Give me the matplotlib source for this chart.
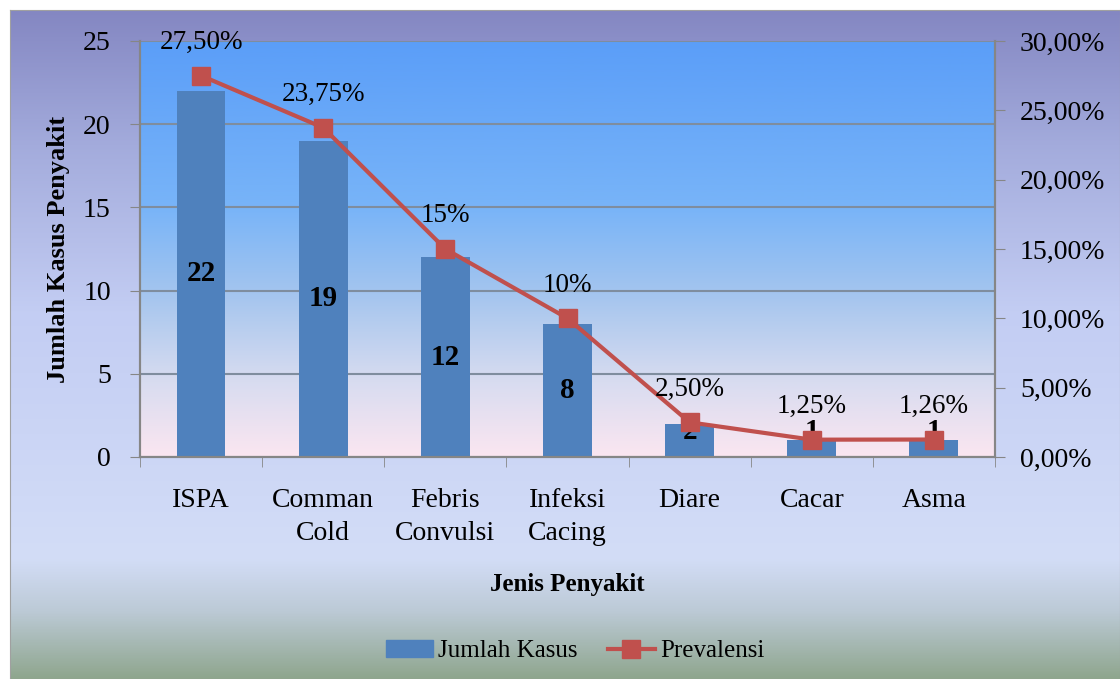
import numpy as np
import matplotlib.pyplot as plt
from matplotlib.colors import LinearSegmentedColormap
from matplotlib.lines import Line2D
from matplotlib.patches import Patch

# data
categories = ['ISPA', 'Comman\nCold', 'Febris\nConvulsi', 'Infeksi\nCacing', 'Diare', 'Cacar', 'Asma']
jumlah_kasus = [22, 19, 12, 8, 2, 1, 1]
prevalensi = [27.5, 23.75, 15.0, 10.0, 2.5, 1.25, 1.26]
prevalensi_labels = ['27,50%', '23,75%', '15%', '10%', '2,50%', '1,25%', '1,26%']

plt.rcParams['font.family'] = ['Liberation Serif', 'DejaVu Serif']

W, H = 1120, 679
fig = plt.figure(figsize=(W / 100, H / 100), dpi=100)
fig.patch.set_facecolor('white')

# outer chart area gradient (purple -> light blue -> greenish)
grad = np.linspace(0, 1, 256).reshape(-1, 1)
bg_cmap = LinearSegmentedColormap.from_list('bg', [
    (0.0, '#8487c2'), (0.2, '#a3abdc'), (0.45, '#c3cdf3'),
    (0.82, '#d3ddf7'), (0.9, '#bccad6'), (1.0, '#8fa68e')])
bg = fig.add_axes([10 / W, 0, 1 - 10 / W, (H - 10) / H])
bg.imshow(grad, aspect='auto', cmap=bg_cmap)
bg.set_xticks([])
bg.set_yticks([])
for s in bg.spines.values():
    s.set_color('#a0a0a0')

# plot area
ax = fig.add_axes([140 / W, 1 - 457 / H, 855 / W, 416 / H])
plot_cmap = LinearSegmentedColormap.from_list('plot', [
    (0.0, '#5b9ef8'), (0.4, '#78b4f8'), (0.62, '#a7c6ee'),
    (0.82, '#d8dcf0'), (1.0, '#fbe6f0')])
x = np.arange(len(categories))
ax.imshow(grad, aspect='auto', cmap=plot_cmap, extent=[-0.5, 6.5, 0, 25], zorder=0)

ax.bar(x, jumlah_kasus, width=0.4, color='#4f81bd', zorder=2)
for xi, v in zip(x, jumlah_kasus):
    ax.text(xi, max(v / 2, 1.55), str(v), ha='center', va='center',
            fontsize=21, fontweight='bold', color='black', zorder=5)

ax.set_xlim(-0.5, 6.5)
ax.set_ylim(0, 25)
ax.set_yticks(range(0, 26, 5))
ax.set_axisbelow(True)
ax.yaxis.grid(True, color='#7f8d9e', lw=1.5)
ax.set_xticks(x)
ax.set_xticklabels(categories, fontsize=20, linespacing=1.45)
ax.set_xticks(np.arange(-0.5, 7, 1), minor=True)
ax.tick_params(axis='x', which='major', length=0, pad=22)
ax.tick_params(axis='x', which='minor', length=7, color='#868686', direction='out')
ax.tick_params(axis='y', labelsize=20, length=7, color='#868686', pad=14)
ax.spines['top'].set_visible(False)
for s in ['left', 'bottom', 'right']:
    ax.spines[s].set_color('#868686')
    ax.spines[s].set_linewidth(1.5)
ax.patch.set_visible(False)

# prevalence line on the secondary axis
ax2 = ax.twinx()
ax2.plot(x, prevalensi, color='#c0504d', lw=3, marker='s', ms=13.5, zorder=3)
for xi, v, lab in zip(x, prevalensi, prevalensi_labels):
    ax2.annotate(lab, (xi, v), xytext=(0, 24), textcoords='offset points',
                 ha='center', va='center', fontsize=19.5)
ax2.set_ylim(0, 30)
ax2.set_yticks(range(0, 31, 5))
ax2.set_yticklabels([f'{v:.2f}'.replace('.', ',') + '%' for v in range(0, 31, 5)])
ax2.tick_params(axis='y', labelsize=20, length=7, color='#868686', pad=11)
ax2.spines['top'].set_visible(False)
for s in ['left', 'bottom', 'right']:
    ax2.spines[s].set_color('#868686')
    ax2.spines[s].set_linewidth(1.5)

fig.text(58 / W, 1 - 249 / H, 'Jumlah Kasus Penyakit', rotation=90, ha='center',
         va='center', fontsize=19, fontweight='bold')
fig.text(567 / W, 1 - 585 / H, 'Jenis Penyakit', ha='center', va='center',
         fontsize=18, fontweight='bold')

handles = [Patch(color='#4f81bd'),
           Line2D([], [], color='#c0504d', lw=3, marker='s', ms=13.5)]
fig.legend(handles, ['Jumlah Kasus', 'Prevalensi'], loc='center',
           bbox_to_anchor=(575 / W, 1 - 651 / H), ncol=2, frameon=False,
           fontsize=18, handlelength=1.9, handletextpad=0.2, columnspacing=1.2)

fig.savefig('out.png', dpi=100)
